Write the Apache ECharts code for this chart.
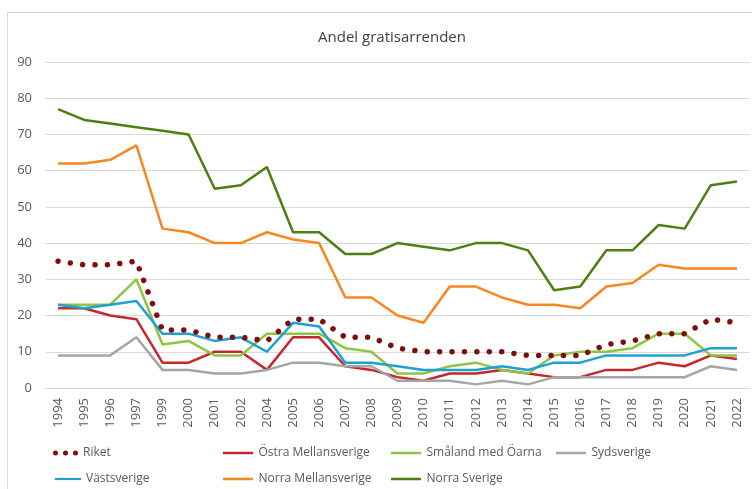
<!DOCTYPE html>
<html>
<head>
<meta charset="utf-8">
<script src="https://cdn.jsdelivr.net/npm/echarts@6/dist/echarts.min.js"></script>
<style>html,body{margin:0;padding:0;background:#fff}#c{width:752px;height:489px}</style>
</head>
<body>
<div id="c"></div>
<script>
var years = ['1994','1995','1996','1997','1999','2000','2001','2002','2004','2005','2006','2007','2008','2009','2010','2011','2012','2013','2014','2015','2016','2017','2018','2019','2020','2021','2022'];
var riket = [35,34,34,35,16,16,14,14,13,19,19,14,14,11,10,10,10,10,9,9,9,12,13,15,15,19,18];
var ostraMellansverige = [22,22,20,19,7,7,10,10,5,14,14,6,5,3,2,4,4,5,4,3,3,5,5,7,6,9,8];
var smalandMedOarna = [23,23,23,30,12,13,9,9,15,15,15,11,10,4,4,6,7,5,4,9,10,10,11,15,15,9,9];
var sydsverige = [9,9,9,14,5,5,4,4,5,7,7,6,6,2,2,2,1,2,1,3,3,3,3,3,3,6,5];
var vastsverige = [23,22,23,24,15,15,13,14,10,18,17,7,7,6,5,5,5,6,5,7,7,9,9,9,9,11,11];
var norraMellansverige = [62,62,63,67,44,43,40,40,43,41,40,25,25,20,18,28,28,25,23,23,22,28,29,34,33,33,33];
var norraSverige = [77,74,73,72,71,70,55,56,61,43,43,37,37,40,39,38,40,40,38,27,28,38,38,45,44,56,57];

var FONT = '"Open Sans", "Liberation Sans", sans-serif';
var TXT = '#595959';

function lineSeries(name, data, color, z) {
  return {
    name: name, type: 'line', data: data, symbol: 'none', z: z,
    lineStyle: { color: color, width: 2.5 }, itemStyle: { color: color },
    emphasis: { disabled: true }, animation: false
  };
}
function lg(name, left, top, w, icon) {
  return {
    data: [{ name: name, icon: icon || 'path://M0,0L36,0L36,3L0,3Z' }],
    left: left, top: top, itemWidth: w, itemHeight: icon ? 5 : 2.5,
    textStyle: { color: TXT, fontSize: 12, fontFamily: FONT },
    selectedMode: false, padding: 0
  };
}

var chart = echarts.init(document.getElementById('c'), null, { renderer: 'canvas' });
chart.setOption({
  animation: false,
  backgroundColor: '#fff',
  title: {
    text: 'Andel gratisarrenden', left: 387, top: 25, textAlign: 'center',
    textStyle: { color: '#404040', fontSize: 15, fontWeight: 'normal', fontFamily: FONT }
  },
  graphic: [{
    type: 'rect', shape: { x: 7.5, y: 12.5, width: 800, height: 520 },
    style: { fill: 'none', stroke: '#d9d9d9', lineWidth: 1 }, silent: true
  }],
  grid: { left: 45, right: 2, top: 62, bottom: 101 },
  xAxis: {
    type: 'category', data: years,
    axisLine: { lineStyle: { color: '#d9d9d9' } },
    axisTick: { show: false },
    axisLabel: { rotate: 90, margin: 10, color: TXT, fontSize: 13, fontFamily: FONT, interval: 0 }
  },
  yAxis: {
    type: 'value', min: 0, max: 90, interval: 10,
    axisLine: { show: false }, axisTick: { show: false },
    splitLine: { lineStyle: { color: '#d9d9d9', width: 1 } },
    axisLabel: { margin: 13, color: TXT, fontSize: 13, fontFamily: FONT }
  },
  legend: [
    lg('Riket', 53, 447, 25, 'path://M2.5,0A2.5,2.5,0,1,1,2.5,5A2.5,2.5,0,1,1,2.5,0ZM12.5,0A2.5,2.5,0,1,1,12.5,5A2.5,2.5,0,1,1,12.5,0ZM22.5,0A2.5,2.5,0,1,1,22.5,5A2.5,2.5,0,1,1,22.5,0Z'),
    lg('Östra Mellansverige', 223, 447, 31),
    lg('Småland med Öarna', 391, 447, 31),
    lg('Sydsverige', 556, 447, 31),
    lg('Västsverige', 55, 473, 26),
    lg('Norra Mellansverige', 223, 473, 31),
    lg('Norra Sverige', 391, 473, 31)
  ],
  series: [
    lineSeries('Östra Mellansverige', ostraMellansverige, '#C3282F', 2),
    lineSeries('Småland med Öarna', smalandMedOarna, '#8DC63F', 2),
    lineSeries('Sydsverige', sydsverige, '#A5A5A5', 2),
    lineSeries('Västsverige', vastsverige, '#1FA0D2', 2),
    lineSeries('Norra Mellansverige', norraMellansverige, '#F7871E', 2),
    lineSeries('Norra Sverige', norraSverige, '#4F7F12', 2),
    {
      name: 'Riket', type: 'line', data: riket, symbol: 'none', z: 3,
      lineStyle: { color: '#7F0F0F', width: 5.5, type: [0.01, 12.4], cap: 'round' },
      itemStyle: { color: '#7F0F0F' }, emphasis: { disabled: true }
    }
  ]
});
</script>
</body>
</html>
